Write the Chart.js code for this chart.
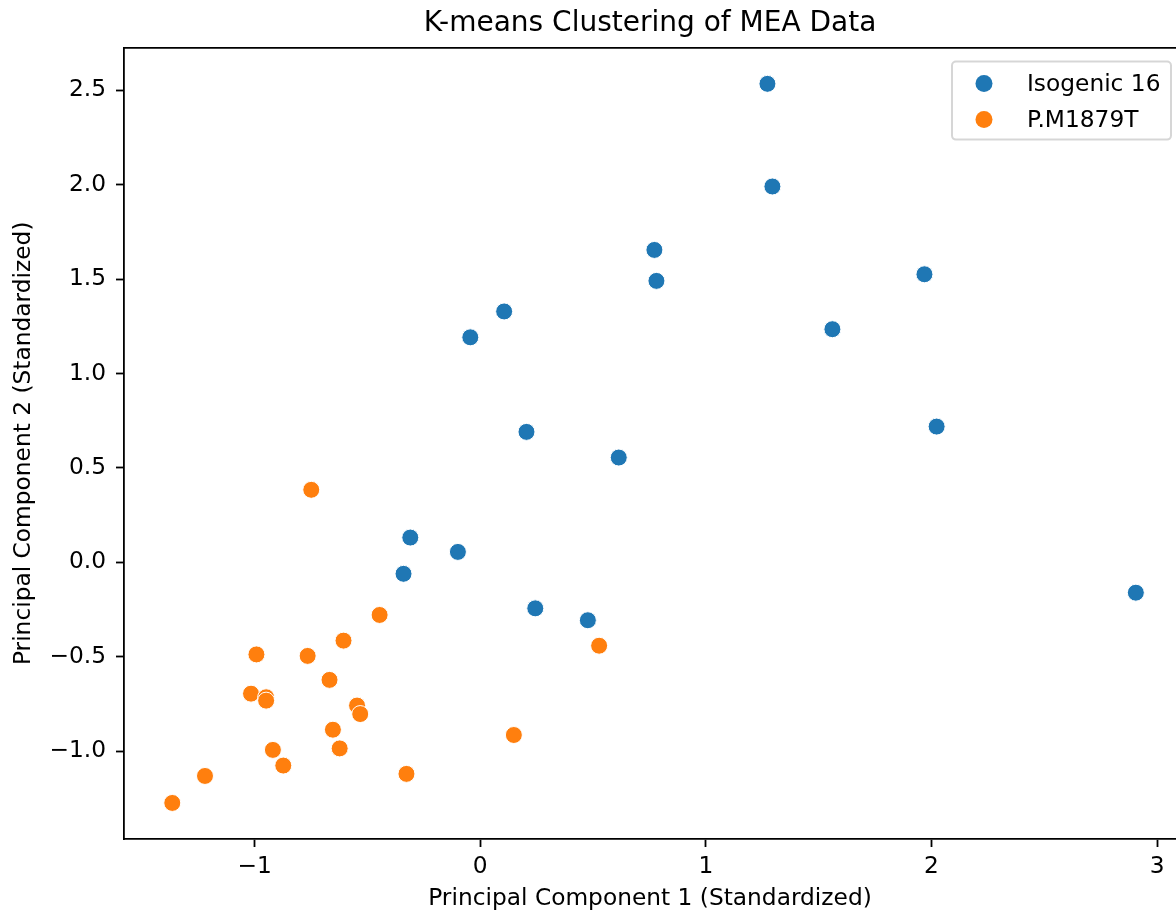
<!DOCTYPE html>
<html>
<head>
<meta charset="utf-8">
<title>K-means Clustering of MEA Data</title>
<script src="https://cdn.jsdelivr.net/npm/chart.js@4/dist/chart.umd.min.js"></script>
<style>
  html, body { margin: 0; padding: 0; background: #fff; }
  #wrap { width: 1176px; height: 913px; }
</style>
</head>
<body>
<div id="wrap"><canvas id="plot" width="1176" height="913"></canvas></div>
<script>
// cluster assignments on the first two principal components
const clusterNames = ["Isogenic 16", "P.M1879T"];
const clusterColors = ["#1f77b4", "#ff7f0e"];

const isogenicPc1 = [1.273, 1.295, 0.772, 0.781, 0.106, -0.044, 1.969, 1.561, 2.023,
  0.205, 0.614, -0.310, -0.099, -0.340, 0.244, 0.477, 2.906];
const isogenicPc2 = [2.535, 1.991, 1.655, 1.491, 1.329, 1.192, 1.526, 1.235, 0.719,
  0.691, 0.555, 0.131, 0.055, -0.061, -0.244, -0.307, -0.161];

const mutantPc1 = [-0.749, -0.446, -0.606, -0.992, -0.765, -0.668, -1.016, -0.949, -0.949, -0.546,
  -0.532, -0.653, 0.149, -0.623, -0.919, -0.873, -0.327, -1.220, -1.365, 0.527];
const mutantPc2 = [0.384, -0.279, -0.415, -0.488, -0.496, -0.623, -0.696, -0.715, -0.733, -0.759,
  -0.804, -0.887, -0.915, -0.986, -0.994, -1.077, -1.121, -1.132, -1.275, -0.442];

const xTicks = [-1, 0, 1, 2, 3];
const yTicks = [-1.0, -0.5, 0.0, 0.5, 1.0, 1.5, 2.0, 2.5];

const FONT = "'DejaVu Sans', sans-serif";
const LABEL_SIZE = 23.3;

function toPoints(xs, ys) {
  return xs.map((x, i) => ({ x: x, y: ys[i] }));
}

// matplotlib style minus sign
function fmt(v, digits) {
  const s = Math.abs(v).toFixed(digits);
  return v < 0 ? "\u2212" + s : s;
}

// keep tick labels from pushing the plot area inwards
function noEdgePadding(s) {
  s.paddingLeft = 0;
  s.paddingRight = 0;
  s.paddingTop = 0;
  s.paddingBottom = 0;
}

// framed legend drawn inside the upper right corner of the plot area
const boxedLegend = {
  id: "boxedLegend",
  afterDraw(chart) {
    const { ctx, chartArea } = chart;
    const left = chartArea.right - 224;
    const top = chartArea.top + 14;
    const w = 219, h = 78;
    ctx.save();
    ctx.fillStyle = "rgba(255,255,255,0.8)";
    ctx.strokeStyle = "rgba(204,204,204,0.8)";
    ctx.lineWidth = 2;
    ctx.beginPath();
    ctx.roundRect(left, top, w, h, 4);
    ctx.fill();
    ctx.stroke();
    ctx.font = LABEL_SIZE + "px " + FONT;
    ctx.textBaseline = "middle";
    chart.data.datasets.forEach((ds, i) => {
      const cy = top + 22 + i * 36;
      ctx.beginPath();
      ctx.arc(left + 32, cy, 8.5, 0, Math.PI * 2);
      ctx.fillStyle = ds.backgroundColor;
      ctx.fill();
      ctx.fillStyle = "#000";
      ctx.fillText(ds.label, left + 75, cy + 1);
    });
    ctx.restore();
  }
};

const axisGrid = {
  display: true,
  drawOnChartArea: false,
  drawTicks: true,
  tickLength: 8,
  tickWidth: 1.8,
  tickColor: "#000"
};

new Chart(document.getElementById("plot"), {
  type: "scatter",
  data: {
    datasets: [
      {
        label: clusterNames[0],
        data: toPoints(isogenicPc1, isogenicPc2),
        backgroundColor: clusterColors[0],
        borderColor: "#fff",
        borderWidth: 1,
        pointRadius: 8.5
      },
      {
        label: clusterNames[1],
        data: toPoints(mutantPc1, mutantPc2),
        backgroundColor: clusterColors[1],
        borderColor: "#fff",
        borderWidth: 1,
        pointRadius: 8.5
      }
    ]
  },
  options: {
    responsive: false,
    animation: false,
    events: [],
    layout: { padding: 0, autoPadding: false },
    plugins: {
      legend: { display: false },
      tooltip: { enabled: false },
      title: {
        display: true,
        fullSize: false,
        text: "K-means Clustering of MEA Data",
        color: "#000",
        font: { family: FONT, size: 28, weight: "normal" },
        padding: { top: 7, bottom: 7 }
      }
    },
    scales: {
      x: {
        type: "linear",
        position: "bottom",
        min: -1.579,
        max: 3.084,
        afterFit: (s) => { s.height = 74; noEdgePadding(s); },
        afterBuildTicks: (s) => { s.ticks = xTicks.map(v => ({ value: v })); },
        grid: axisGrid,
        border: { display: true, color: "#000", width: 1.8 },
        ticks: {
          includeBounds: false,
          color: "#000",
          padding: 6,
          maxRotation: 0,
          font: { family: FONT, size: LABEL_SIZE },
          callback: (v) => fmt(v, 0)
        },
        title: {
          display: true,
          text: "Principal Component 1 (Standardized)",
          color: "#000",
          font: { family: FONT, size: LABEL_SIZE },
          padding: { top: 0, bottom: 0 }
        }
      },
      top: {
        type: "linear",
        position: "top",
        min: -1.579,
        max: 3.084,
        afterFit: (s) => { s.height = 0; noEdgePadding(s); },
        grid: { display: false },
        border: { display: true, color: "#000", width: 1.8 },
        ticks: { display: false }
      },
      y: {
        type: "linear",
        position: "left",
        min: -1.466,
        max: 2.727,
        afterFit: (s) => { s.width = 124; noEdgePadding(s); },
        afterBuildTicks: (s) => { s.ticks = yTicks.map(v => ({ value: v })); },
        grid: axisGrid,
        border: { display: true, color: "#000", width: 1.8 },
        ticks: {
          includeBounds: false,
          color: "#000",
          padding: 10,
          font: { family: FONT, size: LABEL_SIZE },
          callback: (v) => fmt(v, 1)
        },
        title: {
          display: true,
          text: "Principal Component 2 (Standardized)",
          color: "#000",
          font: { family: FONT, size: LABEL_SIZE },
          padding: { top: 10, bottom: 0 }
        }
      }
    }
  },
  plugins: [boxedLegend]
});
</script>
</body>
</html>
